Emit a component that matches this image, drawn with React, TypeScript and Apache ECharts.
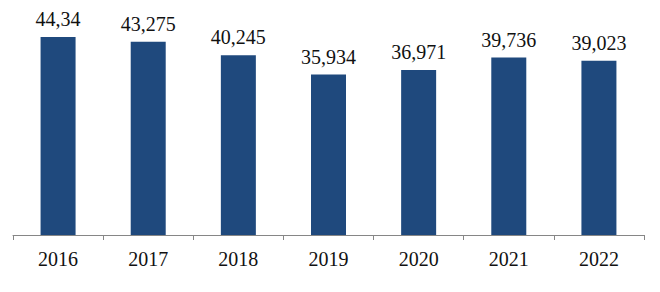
import React, { useEffect, useRef } from "react";
import * as echarts from "echarts";

const years = ["2016", "2017", "2018", "2019", "2020", "2021", "2022"];
const values = [44.34, 43.275, 40.245, 35.934, 36.971, 39.736, 39.023];
const valueLabels = ["44,34", "43,275", "40,245", "35,934", "36,971", "39,736", "39,023"];

export default function App() {
  const ref = useRef<HTMLDivElement>(null);
  useEffect(() => {
    if (!ref.current) return;
    const chart = echarts.init(ref.current, undefined, { renderer: "svg" });
    chart.setOption({
      animation: false,
      grid: { left: 13, right: 16, top: 11.7, bottom: 57, containLabel: false },
      xAxis: {
        type: "category",
        data: years,
        axisLine: { show: true, lineStyle: { color: "#868686", width: 1 } },
        axisTick: { show: true, alignWithLabel: false, length: 5, lineStyle: { color: "#868686" } },
        axisLabel: {
          margin: 14,
          fontFamily: "Liberation Serif",
          fontSize: 20,
          color: "#111",
        },
      },
      yAxis: {
        type: "value",
        min: 0,
        max: 50,
        show: false,
        splitLine: { show: false },
      },
      series: [
        {
          type: "bar",
          data: values,
          barWidth: 35,
          itemStyle: { color: "#1F497D" },
          label: {
            show: true,
            position: "top",
            distance: 8,
            fontFamily: "Liberation Serif",
            fontSize: 20,
            color: "#111",
            formatter: (p: any) => valueLabels[p.dataIndex],
          },
        },
      ],
    });
    return () => chart.dispose();
  }, []);
  return (
    <div
      ref={ref}
      style={{ position: "absolute", left: 0, top: 0, width: 660, height: 292 }}
    />
  );
}
